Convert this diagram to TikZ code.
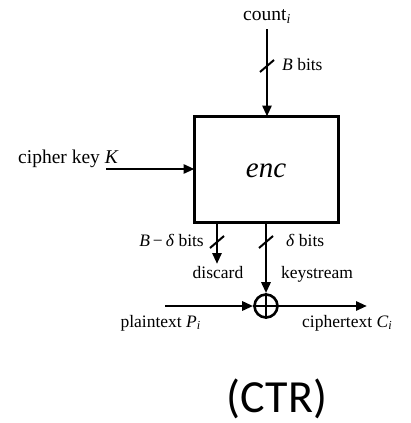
\documentclass[tikz,border=0pt]{standalone}
\usepackage{fontspec}
\setmainfont{Liberation Serif}
\newfontfamily\labelsans{Carlito}
\usetikzlibrary{arrows.meta,calc}
\newcommand{\ivar}[1]{\textit{#1}}
\newcommand{\isub}[1]{\textsubscript{\textit{#1}}}
\tikzset{
  wire/.style={line width=2.8pt, -{Triangle[length=11pt,width=9pt]}},
  blockbox/.style={draw, line width=3.4pt},
  busmark/.style={line width=2pt},
  lbl/.style={inner sep=0pt, anchor=base, font=\fontsize{17.5}{20}\selectfont},
  biglbl/.style={inner sep=0pt, anchor=base, font=\fontsize{19.5}{22}\selectfont},
}
\begin{document}
\begin{tikzpicture}[x=1pt,y=-1pt]
  \useasboundingbox (0,0) rectangle (411,423);

  % encryption block
  \draw[blockbox] (194.5,116.5) rectangle (338.5,222.5);
  \node[inner sep=0pt, anchor=base, font=\fontsize{29}{32}\selectfont\itshape] (enc) at (266,177) {enc};
  \coordinate (boxtop) at (267,116.5);
  \coordinate (boxleft) at (194.5,169);
  \coordinate (outA) at (217,222.5);
  \coordinate (outB) at (266,222.5);

  % counter input
  \node[biglbl] (count) at (267,20) {count\isub{i}};
  \coordinate (countfoot) at (267,29);
  \draw[wire] (countfoot) -- (boxtop);
  \coordinate (slashT) at (267,66);
  \draw[busmark] ($(slashT)+(-7,6)$) -- ($(slashT)+(7,-6)$);
  \node[lbl, anchor=base west] (bbits) at (282,70) {\ivar{B} bits};

  % key input
  \node[biglbl, anchor=base west] (key) at (18,163) {cipher key \ivar{K}};
  \coordinate (keyend) at (106,169);
  \draw[wire] (keyend) -- (boxleft);

  % discarded bits
  \coordinate (discardtip) at (217,264);
  \draw[wire] (outA) -- (discardtip);
  \coordinate (slashL) at (217,242);
  \draw[busmark] ($(slashL)+(-7,6)$) -- ($(slashL)+(7,-6)$);
  \node[lbl, anchor=base east] (bdbits) at (204,246) {\ivar{B}\,−\,\ivar{δ} bits};
  \node[lbl] (discard) at (218,278) {discard};

  % keystream bits
  \node[draw, circle, line width=2.6pt, minimum size=23pt, inner sep=0pt] (xor) at (266,306) {};
  \draw[line width=2.6pt] (xor.north) -- (xor.south) (xor.west) -- (xor.east);
  \draw[wire] (outB) -- (xor.north);
  \coordinate (slashR) at (266,242);
  \draw[busmark] ($(slashR)+(-7,6)$) -- ($(slashR)+(7,-6)$);
  \node[lbl, anchor=base west] (dbits) at (286,246) {\ivar{δ} bits};
  \node[lbl] (keystream) at (317,278) {keystream};

  % plaintext in, ciphertext out
  \coordinate (pin) at (165,306);
  \coordinate (cout) at (367,306);
  \draw[wire] (pin) -- (xor.west);
  \draw[wire] (xor.east) -- (cout);
  \node[lbl, anchor=base east] (ptext) at (201,327) {plaintext \ivar{P}\isub{i}};
  \node[lbl, anchor=base west] (ctext) at (302,327) {ciphertext \ivar{C}\isub{i}};

  % mode caption
  \node[inner sep=0pt, anchor=base, font=\labelsans\fontsize{46}{50}\selectfont] (mode) at (277,412) {(CTR)};
\end{tikzpicture}
\end{document}
